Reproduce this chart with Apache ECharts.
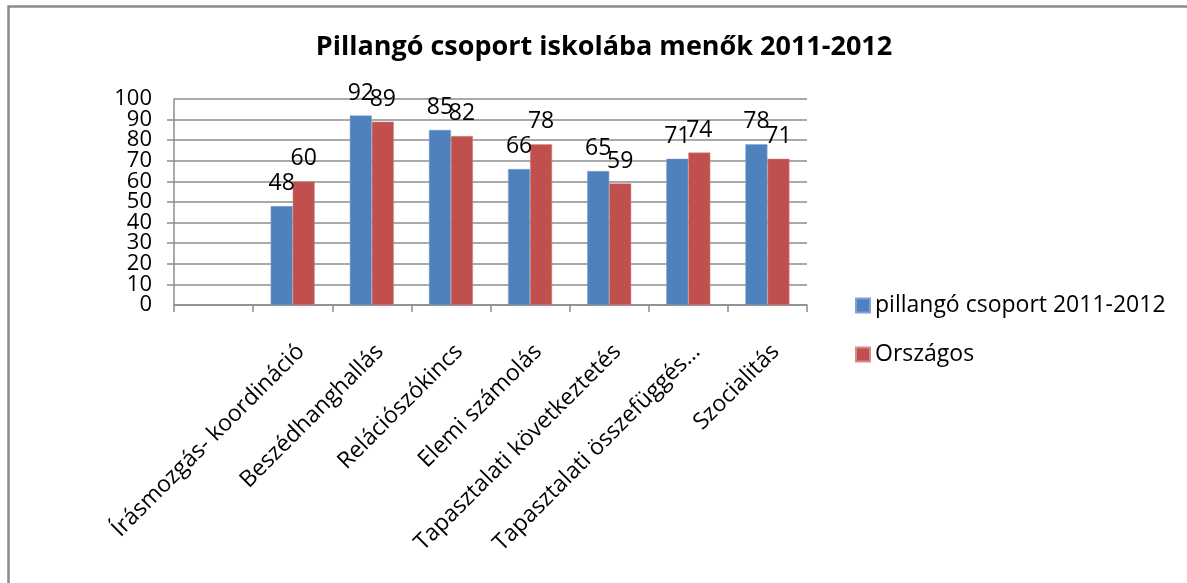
<!DOCTYPE html>
<html>
<head>
<meta charset="utf-8">
<title>Pillangó csoport</title>
<script src="https://cdn.jsdelivr.net/npm/echarts@6/dist/echarts.min.js"></script>
<style>
    html, body { margin: 0; padding: 0; background: #fff; }
    #chart { width: 1187px; height: 583px; }
</style>
</head>
<body>
<div id="chart"></div>
<script>
/* data */
var categories = ['', 'Írásmozgás- koordináció', 'Beszédhanghallás', 'Relációszókincs',
    'Elemi számolás', 'Tapasztalati következtetés', 'Tapasztalati összefüggés…', 'Szocialitás'];
var pillango = [null, 48, 92, 85, 66, 65, 71, 78];
var orszagos = [null, 60, 89, 82, 78, 59, 74, 71];
var seriesNames = ['pillangó csoport 2011-2012', 'Országos'];
var yTicks = [0, 100, 10];   // min, max, interval

var FONT = '"Open Sans", sans-serif';
var GRAY = '#8c8c8c';

var myChart = echarts.init(document.getElementById('chart'));

var labelStyle = {
    show: true,
    position: 'top',
    distance: 11,
    color: '#000',
    fontSize: 23,
    fontFamily: FONT
};

var yLabel = { margin: 22, color: '#000', fontSize: 22, fontFamily: FONT };

var option = {
    animation: false,
    backgroundColor: '#fff',
    title: {
        text: 'Pillangó csoport iskolába menők 2011-2012',
        left: 599,
        textAlign: 'center',
        top: 29,
        textStyle: { fontFamily: FONT, fontWeight: 'bold', fontSize: 27, color: '#000' }
    },
    legend: {
        orient: 'vertical',
        left: 850,
        top: 289,
        itemWidth: 14,
        itemHeight: 14,
        itemGap: 26,
        icon: 'rect',
        data: seriesNames,
        textStyle: { fontFamily: FONT, fontSize: 23, color: '#000' }
    },
    grid: { left: 174, right: 380, top: 99, bottom: 278, containLabel: false },
    xAxis: {
        type: 'category',
        data: categories,
        axisLine: { lineStyle: { color: GRAY, width: 1.5 } },
        axisTick: { show: true, length: 7, lineStyle: { color: GRAY, width: 1.5 } },
        axisLabel: {
            interval: 0,
            rotate: 45,
            margin: 35,
            verticalAlign: 'top',
            color: '#000',
            fontSize: 23,
            fontFamily: FONT
        }
    },
    yAxis: [
        {   // main axis: grid, ticks, labels 10..90
            type: 'value',
            min: yTicks[0],
            max: yTicks[1],
            interval: yTicks[2],
            axisLine: { show: true, lineStyle: { color: GRAY, width: 1.5 } },
            axisTick: { show: true, length: 7, lineStyle: { color: GRAY, width: 1.5 } },
            splitLine: { lineStyle: { color: GRAY, width: 1.5 } },
            axisLabel: echarts.util.extend({ showMinLabel: false, showMaxLabel: false }, yLabel)
        },
        {   // same scale, only carries the 0 and 100 labels (echarts drops them otherwise)
            type: 'value',
            position: 'left',
            min: yTicks[0],
            max: yTicks[1],
            interval: yTicks[1] - yTicks[0],
            axisLine: { show: false },
            axisTick: { show: false },
            splitLine: { show: false },
            axisLabel: yLabel
        }
    ],
    series: [
        {
            name: seriesNames[0],
            type: 'bar',
            data: pillango,
            barWidth: 22,
            barGap: '0%',
            itemStyle: { color: '#4F81BD', borderColor: '#7da3d4', borderWidth: 0.5 },
            label: labelStyle
        },
        {
            name: seriesNames[1],
            type: 'bar',
            data: orszagos,
            barWidth: 22,
            barGap: '0%',
            itemStyle: { color: '#C0504D', borderColor: '#d98a88', borderWidth: 0.5 },
            label: labelStyle
        }
    ],
    graphic: [
        {   // chart area frame, only top and left visible
            type: 'polyline',
            shape: { points: [[8.5, 600], [8.5, 6.5], [1200, 6.5]] },
            style: { stroke: '#8a8a8a', lineWidth: 2.5, fill: null }
        }
    ]
};

myChart.setOption(option);
</script>
</body>
</html>
